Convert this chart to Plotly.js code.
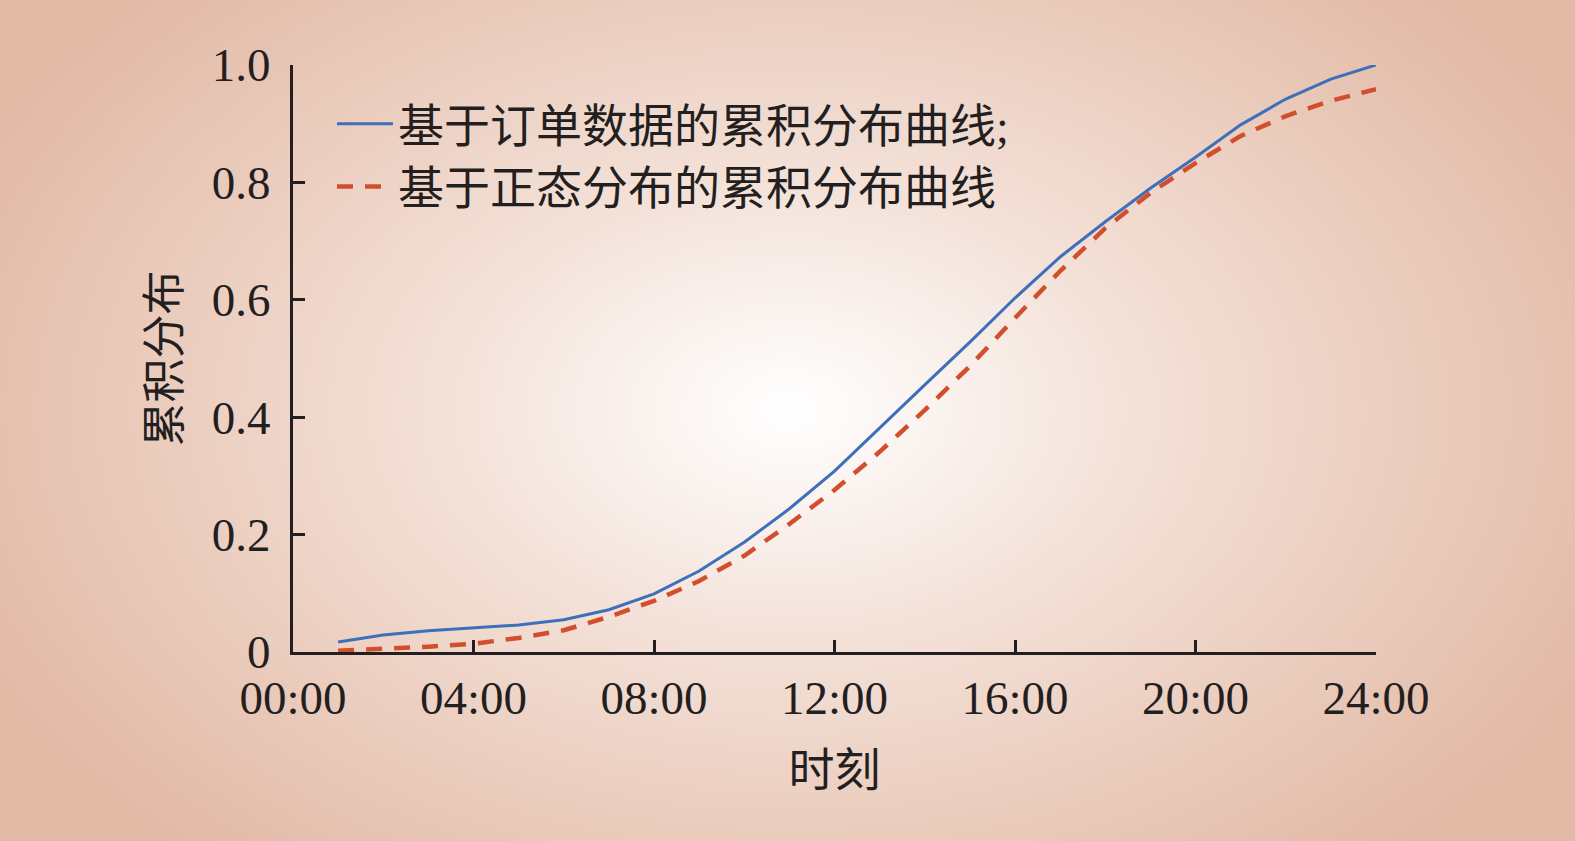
<!DOCTYPE html>
<html>
<head>
<meta charset="utf-8">
<script src="https://cdn.plot.ly/plotly-3.0.1.min.js"></script>
<style>
html,body{margin:0;padding:0;}
body{width:1575px;height:841px;background:radial-gradient(ellipse 900px 600px at 790px 410px,#ffffff 0%,#f3e0d7 40%,#e9c9b9 75%,#e2b9a5 100%);}
#chart{width:1575px;height:841px;}
</style>
</head>
<body>
<div id="chart"></div>
<script>
const hours = [1,2,3,4,5,6,7,8,9,10,11,12,13,14,15,16,17,18,19,20,21,22,23,24];
const orderCdf = [0.017,0.029,0.036,0.041,0.046,0.055,0.072,0.099,0.138,0.187,0.244,0.308,0.382,0.455,0.528,0.603,0.673,0.733,0.790,0.843,0.898,0.942,0.976,1.0];
const normalCdf = [0.002,0.005,0.009,0.014,0.024,0.037,0.060,0.087,0.121,0.164,0.218,0.276,0.341,0.412,0.487,0.569,0.649,0.722,0.782,0.833,0.879,0.913,0.939,0.959];
const xTickVals = [0,4,8,12,16,20,24];
const xTickText = ["00:00","04:00","08:00","12:00","16:00","20:00","24:00"];
const yTickVals = [0,0.2,0.4,0.6,0.8,1.0];
const yTickText = ["0","0.2","0.4","0.6","0.8","1.0"];
const seriesNames = ["基于订单数据的累积分布曲线;","基于正态分布的累积分布曲线"];

const serif = '"Liberation Serif","Times New Roman","Noto Sans CJK SC",serif';
const cjk = '"Liberation Serif","Noto Sans CJK SC",serif';

const traces = [
  {x: hours, y: orderCdf, name: seriesNames[0], type: 'scatter', mode: 'lines',
   line: {color: '#3d6fbb', width: 3}},
  {x: hours, y: normalCdf, name: seriesNames[1], type: 'scatter', mode: 'lines',
   line: {color: '#d24e2c', width: 4.5, dash: '16px,12px'}}
];

const layout = {
  width: 1575, height: 841,
  paper_bgcolor: 'rgba(0,0,0,0)', plot_bgcolor: 'rgba(0,0,0,0)',
  margin: {l: 293, r: 199, t: 65, b: 189},
  showlegend: true,
  legend: {x: 0.036, y: 0.962, xanchor: 'left', yanchor: 'top', bgcolor: 'rgba(0,0,0,0)',
           font: {family: cjk, size: 46, color: '#231f20'}, tracegroupgap: 0, itemwidth: 56},
  xaxis: {range: [0, 24], tickvals: xTickVals, ticktext: xTickText, showgrid: false, zeroline: false,
          showline: true, linecolor: '#231f20', linewidth: 3, ticks: 'inside', ticklen: 12, tickwidth: 3,
          tickcolor: '#231f20', tickfont: {family: serif, size: 47, color: '#231f20'}, ticklabelstandoff: 3,
          title: {text: '时刻', font: {family: cjk, size: 46, color: '#231f20'}, standoff: 31}},
  yaxis: {range: [0, 1.0], tickvals: yTickVals, ticktext: yTickText, showgrid: false, zeroline: false,
          showline: true, linecolor: '#231f20', linewidth: 3, ticks: 'inside', ticklen: 12, tickwidth: 3,
          tickcolor: '#231f20', tickfont: {family: serif, size: 47, color: '#231f20'}, ticklabelstandoff: 10,
          title: {text: '累积分布', font: {family: cjk, size: 44, color: '#231f20'}, standoff: 18}}
};

Plotly.newPlot('chart', traces, layout, {displayModeBar: false, staticPlot: true});
</script>
</body>
</html>
